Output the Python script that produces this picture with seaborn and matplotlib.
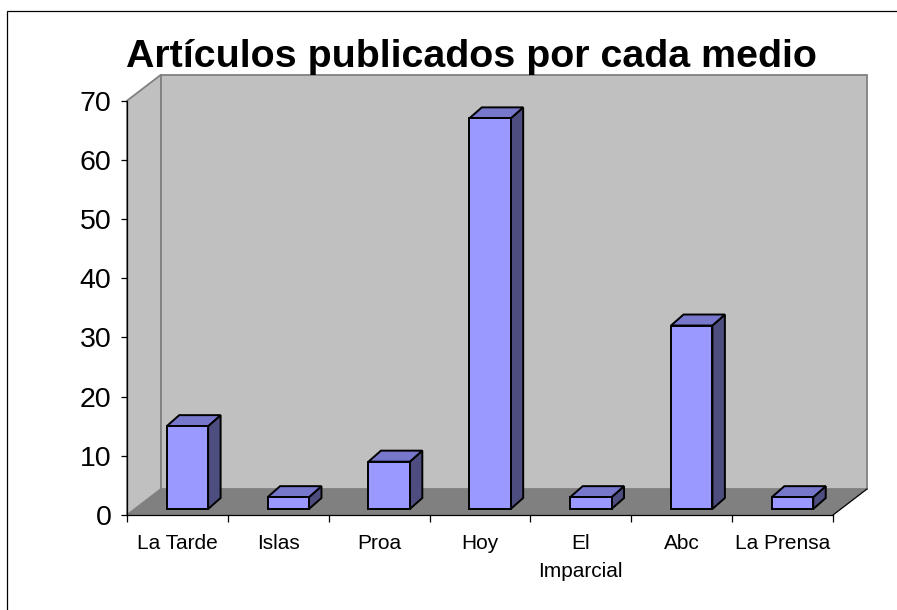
import numpy as np
import matplotlib.pyplot as plt
import seaborn as sns
from matplotlib.patches import Polygon, Rectangle

# ===== data =====
outlets = ['La Tarde', 'Islas', 'Proa', 'Hoy', 'El Imparcial', 'Abc', 'La Prensa']
tick_labels = ['La Tarde', 'Islas', 'Proa', 'Hoy', 'El\nImparcial', 'Abc', 'La Prensa']
articles = [14, 2, 8, 66, 2, 31, 2]
y_ticks = [0, 10, 20, 30, 40, 50, 60, 70]
title = 'Artículos publicados por cada medio'

# ===== layout (pixels) =====
W, H = 897, 610
X0, X1, Y0, Y1 = 127, 833, 515, 100.7   # front plane of the plot

sns.set_style('white')
plt.rcParams['font.family'] = ['Liberation Sans', 'DejaVu Sans']
plt.rcParams['text.color'] = 'black'
plt.rcParams['xtick.color'] = 'black'
plt.rcParams['ytick.color'] = 'black'
plt.rcParams['axes.labelcolor'] = 'black'

fig = plt.figure(figsize=(W / 100, H / 100), dpi=100)
ax = fig.add_axes([X0 / W, 1 - Y0 / H, (X1 - X0) / W, (Y0 - Y1) / H])

sns.barplot(x=outlets, y=articles, color='#9999FF', saturation=1, width=0.41,
            edgecolor='black', linewidth=1.4, ax=ax, zorder=3)
bars = list(ax.patches)
ax.set_xlim(-0.5, 6.5)
ax.set_ylim(0, 70)

# pixel -> data helpers
px_x = (X1 - X0) / 7
px_y = (Y0 - Y1) / 70
DX, DY = 34 / px_x, 26 / px_y          # depth of the floor / walls
sx, sy = 10 / px_x, 6 / px_y           # where the bars stand on the floor
bx, by = 12.5 / px_x, 11 / px_y        # depth of each bar

# walls and floor
left_wall = [(-0.5, 0), (-0.5, 70), (-0.5 + DX, 70 + DY), (-0.5 + DX, DY)]
back_wall = [(-0.5 + DX, DY), (-0.5 + DX, 70 + DY), (6.5 + DX, 70 + DY), (6.5 + DX, DY)]
floor = [(-0.5, 0), (6.5, 0), (6.5 + DX, DY), (-0.5 + DX, DY)]
ax.add_patch(Polygon(left_wall, closed=True, fc='#C0C0C0', ec='#808080', lw=1.3,
                     zorder=0.2, clip_on=False))
ax.add_patch(Polygon(back_wall, closed=True, fc='#C0C0C0', ec='#808080', lw=1.3,
                     zorder=0.2, clip_on=False))
ax.add_patch(Polygon(floor, closed=True, fc='#808080', ec='none', zorder=0.3, clip_on=False))
ax.plot([6.5, 6.5 + DX], [0, DY], color='black', lw=0.9, clip_on=False, zorder=0.4)

# 3d boxes for the bars
for p in bars:
    x = p.get_x() + sx
    w, h = p.get_width(), p.get_height()
    p.set_x(x)
    p.set_y(sy)
    top = [(x, sy + h), (x + w, sy + h), (x + w + bx, sy + h + by), (x + bx, sy + h + by)]
    side = [(x + w, sy), (x + w + bx, sy + by), (x + w + bx, sy + h + by), (x + w, sy + h)]
    ax.add_patch(Polygon(side, closed=True, fc='#4D4D80', ec='black', lw=1.4,
                         zorder=2.6, joinstyle='miter', clip_on=False))
    ax.add_patch(Polygon(top, closed=True, fc='#7777CC', ec='black', lw=1.4,
                         zorder=2.6, joinstyle='miter', clip_on=False))

# axes styling
ax.set_facecolor('none')
ax.set_xlabel('')
ax.set_ylabel('')
for side in ['top', 'right']:
    ax.spines[side].set_visible(False)
for side in ['left', 'bottom']:
    ax.spines[side].set_color('black')
    ax.spines[side].set_linewidth(0.9)
    ax.spines[side].set_zorder(4)

ax.set_yticks(y_ticks)
ax.tick_params(axis='y', labelsize=20.5, length=4.3, width=0.9, pad=7, left=True,
               direction='out', color='black', labelcolor='black')
ax.set_xticks(range(len(outlets)))
ax.set_xticklabels(tick_labels, linespacing=1.6)
ax.set_xticks(np.arange(-0.5, len(outlets), 1), minor=True)
ax.tick_params(axis='x', which='major', labelsize=15, length=0, pad=13.5,
               labelcolor='black')
ax.tick_params(axis='x', which='minor', length=5, width=0.9, bottom=True,
               direction='out', color='black')

fig.text(471.5 / W, 1 - 67 / H, title, ha='center', va='baseline',
         fontsize=28.4, fontweight='bold', color='black')

# chart area border
fig.add_artist(Rectangle((7 / W, -0.05), 1.1, (H - 11) / H + 0.05,
                         transform=fig.transFigure, fill=False, ec='black', lw=0.9))

fig.savefig('out.png', dpi=100)
